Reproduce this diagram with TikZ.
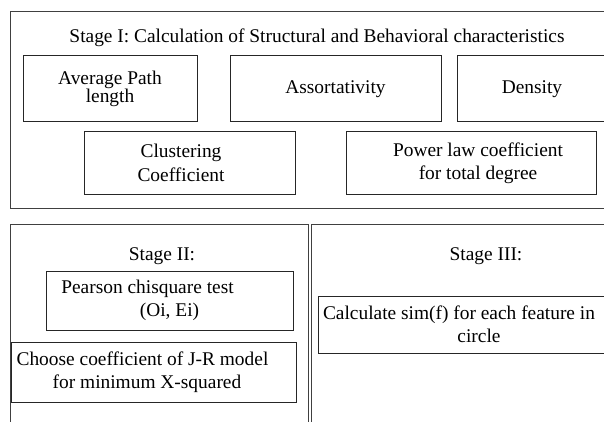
\documentclass[tikz,border=0pt]{standalone}
\usepackage{fontspec}
\setmainfont{Liberation Serif}
\tikzset{basic/.style={draw=black!85,line width=1pt,inner sep=0pt,
                       align=center,font=\fontsize{19.4}{23.3}\selectfont}}
\tikzset{frame/.style={basic,draw=black!75}}
\tikzset{feature/.style={basic}}
\tikzset{title/.style={anchor=base,font=\fontsize{19.4}{23.3}\selectfont}}

\begin{document}
\begin{tikzpicture}[x=1pt,y=-1pt]
    \useasboundingbox (0,0) rectangle (604,422);
    \clip (0,0) rectangle (604,422);
    % Stage frames
    \node[frame,minimum width=620pt,minimum height=196pt] (stage1) at (320,110) {};
    \node[frame,minimum width=298pt,minimum height=226pt] (stage2) at (159,337) {};
    \node[frame,minimum width=329pt,minimum height=226pt] (stage3) at (475.5,337) {};
    % Titles
    \node[title] (title1) at (317,43) {Stage I: Calculation of Structural and Behavioral characteristics};
    \node[title] (title2) at (162,260) {Stage II:};
    \node[title] (title3) at (486,260) {Stage III:};
    % Stage I features
    \node[feature,minimum width=174pt,minimum height=66pt,
          font=\fontsize{19.4}{17}\selectfont] (avg) at (110,89) {Average Path\\length};
    \node[feature,minimum width=211pt,minimum height=66pt] (assort) at (335.5,89) {Assortativity};
    \node[feature,minimum width=150pt,minimum height=66pt] (density) at (532,89) {Density};
    \node[feature,minimum width=211pt,minimum height=62pt] (clust) at (189.5,163) {Clustering\hspace*{17pt}\\Coefficient\hspace*{17pt}};
    \node[feature,minimum width=250pt,minimum height=62pt] (power) at (471,163) {\hspace*{14pt}Power law coefficient\\\hspace*{14pt}for total degree};
    % Stage II
    \node[feature,minimum width=247pt,minimum height=59pt] (pearson) at (169.5,300.5) {Pearson chisquare test\hspace*{44pt}\\(Oi, Ei)};
    \node[feature,minimum width=285pt,minimum height=60pt] (choose) at (153.5,372) {Choose coefficient of J-R model\hspace*{22pt}\\for minimum X-squared\hspace*{13pt}};
    % Stage III
    \node[feature,minimum width=304pt,minimum height=57pt] (simf) at (470,324.5) {Calculate sim(f) for each feature in\hspace*{22pt}\\\hspace*{18pt}circle};
\end{tikzpicture}
\end{document}
